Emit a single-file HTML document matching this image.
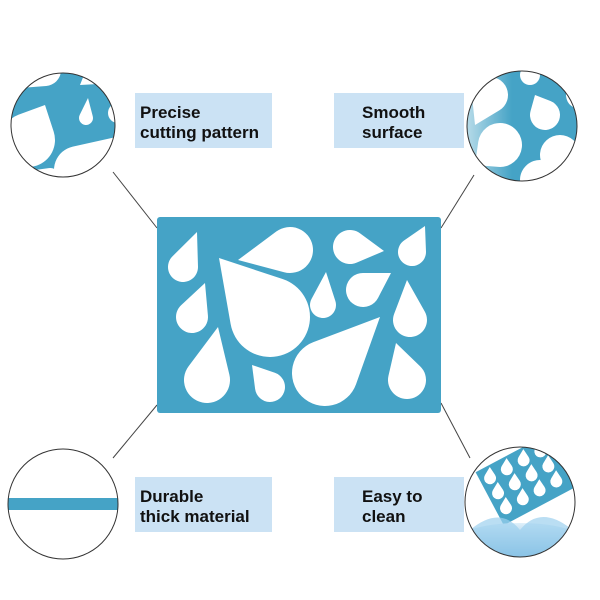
<!DOCTYPE html>
<html><head><style>
body{margin:0;background:#fff;width:600px;height:600px;overflow:hidden;position:relative;font-family:"Liberation Sans",sans-serif}
.lab{position:absolute;background:#cbe2f4;font-weight:bold;font-size:17px;line-height:20px;color:#111;padding:10px 0 0 5px;box-sizing:border-box;height:55px}
</style></head><body>
<svg id="s" width="600" height="600" style="position:absolute;left:0;top:0">
<defs>
<clipPath id="c1"><circle cx="63" cy="125" r="52"/></clipPath>
<clipPath id="c2"><circle cx="522" cy="126" r="55"/></clipPath>
<clipPath id="c3"><circle cx="63" cy="504" r="55"/></clipPath>
<clipPath id="c4"><circle cx="520" cy="502" r="55"/></clipPath>
<linearGradient id="g2" x1="0" x2="1"><stop offset="0" stop-color="#fff" stop-opacity=".7"/><stop offset=".4" stop-color="#fff" stop-opacity="0"/></linearGradient>
<linearGradient id="w" x1="0" y1="0" x2="0" y2="1"><stop offset="0" stop-color="#dff0fa"/><stop offset="1" stop-color="#3a8fc8"/></linearGradient>
</defs>
<g stroke="#444" stroke-width="1" fill="none">
<line x1="113" y1="172" x2="157" y2="228"/>
<line x1="474" y1="175" x2="441" y2="228"/>
<line x1="113" y1="458" x2="157" y2="405"/>
<line x1="470" y1="458" x2="441" y2="403"/>
</g>
<rect x="157" y="217" width="284" height="196" rx="3" fill="#45a3c6"/>
<g id="drops" fill="#fff"></g>
<g clip-path="url(#c1)"><rect x="0" y="60" width="130" height="130" fill="#45a3c6"/><g id="d1" fill="#fff"></g></g>
<circle cx="63" cy="125" r="52" fill="none" stroke="#333"/>
<g clip-path="url(#c2)"><rect x="460" y="60" width="130" height="130" fill="#45a3c6"/><g id="d2" fill="#fff"></g><rect x="460" y="60" width="130" height="130" fill="url(#g2)"/></g>
<circle cx="522" cy="126" r="55" fill="none" stroke="#333"/>
<g clip-path="url(#c3)"><rect x="0" y="498" width="130" height="12" fill="#45a3c6"/></g>
<circle cx="63" cy="504" r="55" fill="none" stroke="#333"/>
<g clip-path="url(#c4)"><rect x="460" y="440" width="130" height="130" fill="#fff"/>
<g transform="rotate(-28 525 480)"><rect x="485" y="450" width="85" height="60" fill="#45a3c6"/><g id="d4" fill="#fff"></g></g>
<ellipse cx="520" cy="545" rx="70" ry="22" fill="url(#w)"/>
<path d="M470 530 Q500 505 520 530 Q540 505 570 528 L575 560 L465 560Z" fill="#9cd0ee" opacity=".7"/></g>
<circle cx="520" cy="502" r="55" fill="none" stroke="#333"/>
</svg>
<div class="lab" style="left:135px;top:93px;width:137px">Precise<br>cutting pattern</div>
<div class="lab" style="left:334px;top:93px;width:130px;padding-left:28px">Smooth<br>surface</div>
<div class="lab" style="left:135px;top:477px;width:137px">Durable<br>thick material</div>
<div class="lab" style="left:334px;top:477px;width:130px;padding-left:28px">Easy to<br>clean</div>
<script>
function drop(cx,cy,r,tx,ty){var dx=tx-cx,dy=ty-cy,d=Math.hypot(dx,dy),b=Math.atan2(dy,dx),a=Math.acos(Math.min(r/d,.99));
var p1=[cx+r*Math.cos(b+a),cy+r*Math.sin(b+a)],p2=[cx+r*Math.cos(b-a),cy+r*Math.sin(b-a)];
return '<path d="M'+tx+' '+ty+' L'+p1+' A'+r+' '+r+' 0 1 1 '+p2+' Z"/>';}
var D=[[183,267,15,197,232],[192,317,16,205,283],[207,380,23,218,327],[270,317,40,219,258],[290,250,23,238,260],[270,387,15,252,365],[323,305,13,326,272],[350,247,17,384,251],[363,290,17,391,273],[412,252,14,425,226],[410,320,17,407,280],[325,373,33,380,317],[407,380,19,396,343]];
document.getElementById('drops').innerHTML=D.map(function(d){return drop.apply(null,d)}).join('');
document.getElementById('d1').innerHTML=[drop(28,140,27,45,105),drop(45,70,16,20,88),drop(98,72,12,80,85),drop(78,170,24,125,135),drop(118,113,10,128,103),drop(86,118,7,88,98),drop(50,178,10,35,170)].join('');
document.getElementById('d2').innerHTML=[drop(490,95,18,475,125),drop(545,115,15,535,95),drop(500,145,22,475,165),drop(560,155,20,590,170),drop(580,95,14,592,80),drop(540,180,20,520,195),drop(530,75,10,540,65)].join('');
var e=[];for(var i=0;i<4;i++)for(var j=0;j<3;j++)e.push(drop(495+i*19,462+j*17,6,500+i*19,452+j*17));
document.getElementById('d4').innerHTML=e.join('');
</script>
</body></html>
